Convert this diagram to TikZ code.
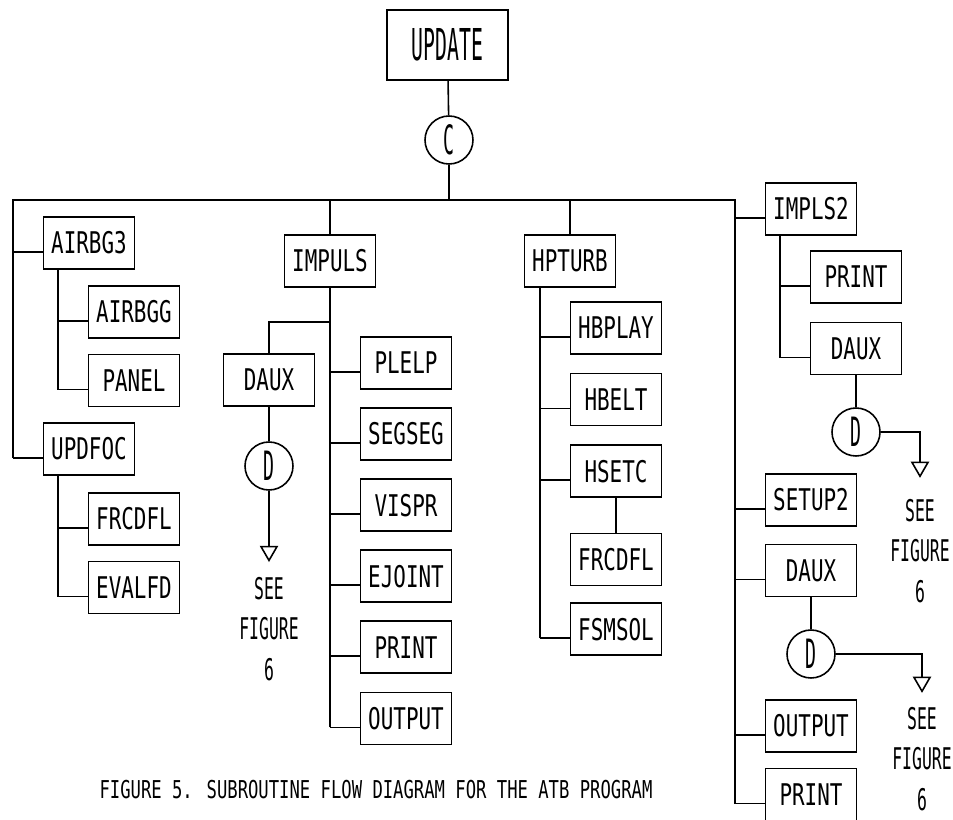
\documentclass[tikz,border=0pt]{standalone}
\usepackage{fontspec}
\newfontfamily\plotfont[FakeStretch=0.7]{DejaVu Sans Mono}
\newfontfamily\plotnote[FakeStretch=0.55]{DejaVu Sans Mono}
\newfontfamily\plottall[FakeStretch=0.45]{DejaVu Sans Mono}
\usetikzlibrary{positioning,shapes.geometric,calc}
\tikzset{
  subbox/.style={draw, line width=0.9pt, minimum width=1.82cm, minimum height=1.04cm,
    inner sep=0pt, font=\plotfont\fontsize{17}{20}\selectfont},
  topbox/.style={subbox, minimum width=2.42cm, minimum height=1.4cm,
    font=\plottall\fontsize{25}{26}\selectfont},
  joint/.style={circle, draw, line width=0.9pt, minimum size=0.96cm, inner sep=0pt,
    font=\plottall\fontsize{23}{23}\selectfont},
  offpage/.style={regular polygon, regular polygon sides=3, shape border rotate=180,
    draw, line width=0.9pt, minimum size=0.37cm, inner sep=0pt},
  seenote/.style={align=center, inner sep=0pt, font=\plotnote\fontsize{17}{23}\selectfont},
  link/.style={line width=0.9pt}
}
\begin{document}
\begin{tikzpicture}[x=0.02cm, y=-0.02cm, node distance=0.35cm]
\useasboundingbox (0,0) rectangle (953,820);
\node[topbox] (upd) at (447.5,45) {UPDATE};
\node[joint] (cC) at (449,140) {C};
\coordinate (busC) at (449,200);

\node[subbox] (airbg3) at (89,243) {AIRBG3};
\node[subbox] (airbgg) at (134,312) {AIRBGG};
\node[subbox, below=0.3cm of airbgg] (panel) {PANEL};
\node[subbox] (updfoc) at (89,449) {UPDFOC};
\node[subbox] (frcdfl1) at (134,519) {FRCDFL};
\node[subbox, below=0.3cm of frcdfl1] (evalfd) {EVALFD};

\node[subbox] (impuls) at (330,261) {IMPULS};
\node[subbox] (daux1) at (269,380) {DAUX};
\node[joint] (cD1) at (269,466) {D};
\node[offpage, below=1.1cm of cD1] (tri1) {};
\node[seenote, below=0.3cm of tri1] (see1) {SEE\\FIGURE\\6};
\node[subbox] (plelp) at (406,363) {PLELP};
\node[subbox, below=of plelp] (segseg) {SEGSEG};
\node[subbox, below=of segseg] (vispr) {VISPR};
\node[subbox, below=of vispr] (ejoint) {EJOINT};
\node[subbox, below=of ejoint] (print1) {PRINT};
\node[subbox, below=of print1] (output1) {OUTPUT};

\node[subbox] (hpturb) at (570,261) {HPTURB};
\node[subbox] (hbplay) at (616,328) {HBPLAY};
\node[subbox, below=0.36cm of hbplay] (hbelt) {HBELT};
\node[subbox, below=0.36cm of hbelt] (hsetc) {HSETC};
\node[subbox, below=0.7cm of hsetc] (frcdfl2) {FRCDFL};
\node[subbox, below=0.32cm of frcdfl2] (fsmsol) {FSMSOL};

\node[subbox] (impls2) at (811,209) {IMPLS2};
\node[subbox] (print2) at (856,277) {PRINT};
\node[subbox, below=0.36cm of print2] (daux2) {DAUX};
\node[joint] (cD2) at (856,432) {D};
\node[offpage] (tri2) at (920,467) {};
\node[seenote, below=0.42cm of tri2] (see2) {SEE\\FIGURE\\6};
\node[subbox] (setup2) at (811,500) {SETUP2};
\node[subbox, below=0.34cm of setup2] (daux3) {DAUX};
\node[joint] (cD3) at (811,654) {D};
\node[offpage] (tri3) at (922,682) {};
\node[seenote, below=0.28cm of tri3] (see3) {SEE\\FIGURE\\6};
\node[subbox] (output3) at (811,726) {OUTPUT};
\node[subbox, below=0.3cm of output3] (print3) {PRINT};

\node[font=\plotfont\fontsize{14}{16}\selectfont] (caption) at (376,790)
  {FIGURE 5. SUBROUTINE FLOW DIAGRAM FOR THE ATB PROGRAM};

\draw[link] (upd) -- (cC);
\draw[link] (cC) -- (busC);
\foreach \c in {airbg3,updfoc}
  \draw[link] ([yshift=-0.18cm]\c.west) -- ++(-0.6cm,0) coordinate (busL);
\foreach \c in {impls2,setup2,daux3,output3,print3}
  \draw[link] ([yshift=-0.18cm]\c.west) -- ++(-0.6cm,0) coordinate (busR);
\draw[link] (busL) |- (busC) -| (busR);
\draw[link] (impuls.north) -- (impuls.north |- busC);
\draw[link] (hpturb.north) -- (hpturb.north |- busC);

\foreach \c in {airbgg,panel}
  \draw[link] ([yshift=-0.18cm]\c.west) -- ++(-0.6cm,0) coordinate (a3v);
\draw[link] (a3v) -- (a3v |- airbg3.south);
\foreach \c in {frcdfl1,evalfd}
  \draw[link] ([yshift=-0.18cm]\c.west) -- ++(-0.6cm,0) coordinate (u4v);
\draw[link] (u4v) -- (u4v |- updfoc.south);

\foreach \c in {plelp,segseg,vispr,ejoint,print1,output1}
  \draw[link] ([yshift=-0.18cm]\c.west) -- ++(-0.6cm,0) coordinate (impv);
\draw[link] (impv) -- (impv |- impuls.south);
\draw[link] (daux1.north) -- ++(0,-31) coordinate (dbr) -- (dbr -| impv);
\draw[link] (daux1) -- (cD1);
\draw[link] (cD1) -- (tri1);

\foreach \c in {hbplay,hbelt,hsetc,fsmsol}
  \draw[link] ([yshift=-0.18cm]\c.west) -- ++(-0.6cm,0) coordinate (hpv);
\draw[link] (hpv) -- (hpv |- hpturb.south);
\draw[link] (hsetc) -- (frcdfl2);

\foreach \c in {print2,daux2}
  \draw[link] ([yshift=-0.18cm]\c.west) -- ++(-0.6cm,0) coordinate (i2v);
\draw[link] (i2v) -- (i2v |- impls2.south);
\draw[link] (daux2) -- (cD2);
\draw[link] (cD2.east) -| (tri2.north);
\draw[link] (daux3) -- (cD3);
\draw[link] (cD3.east) -| (tri3.north);
\end{tikzpicture}
\end{document}
